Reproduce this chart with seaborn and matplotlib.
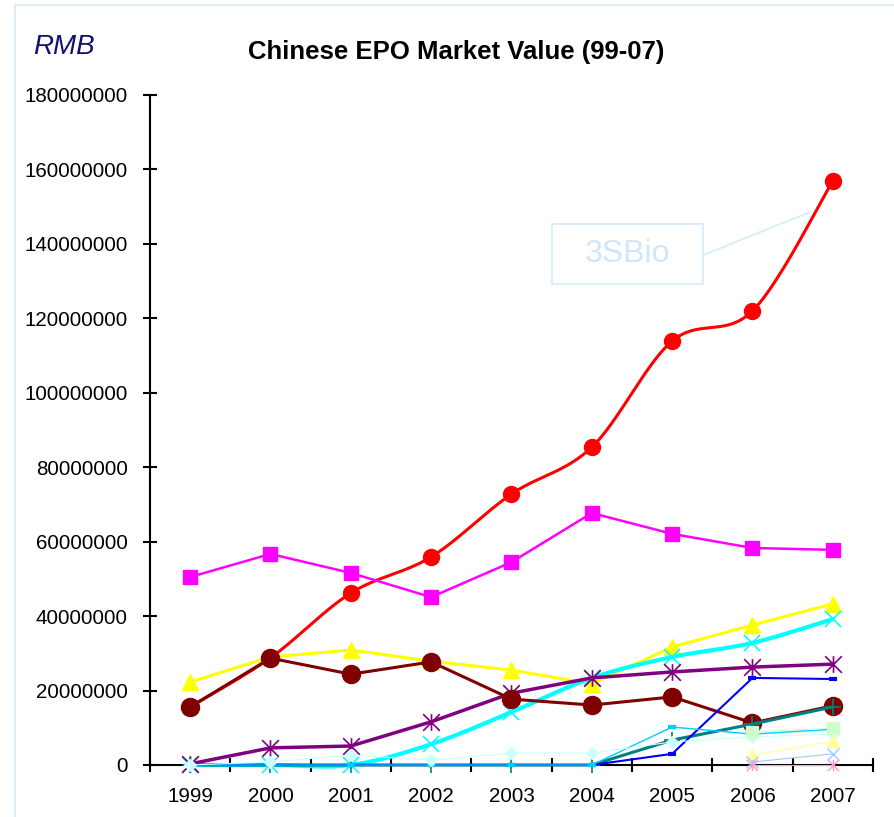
import numpy as np
import pandas as pd
import matplotlib
matplotlib.use("Agg")
import matplotlib.pyplot as plt
import matplotlib.patches as mpatches
from matplotlib.path import Path
from matplotlib.ticker import FixedLocator, StrMethodFormatter
import seaborn as sns

sns.set_theme(style="white")
plt.rcParams["font.family"] = ["Liberation Sans", "DejaVu Sans"]
plt.rcParams["text.color"] = "black"

## DATA (RMB)
years = ["1999", "2000", "2001", "2002", "2003", "2004", "2005", "2006", "2007"]

sbio_3 = [15.6e6, 28.8e6, 46.2e6, 55.9e6, 72.8e6, 85.4e6, 113.9e6, 122.0e6, 156.9e6]
magenta_s = [50.5e6, 56.7e6, 51.6e6, 45.1e6, 54.5e6, 67.7e6, 62.1e6, 58.3e6, 57.8e6]
yellow_s = [22.3e6, 29.0e6, 30.9e6, 27.9e6, 25.5e6, 21.8e6, 31.7e6, 37.6e6, 43.3e6]
cyan_s = [0, 0, 0, 5.6e6, 14.2e6, 23.4e6, 29.0e6, 32.8e6, 39.2e6]
purple_s = [0.3e6, 4.6e6, 5.1e6, 11.6e6, 19.3e6, 23.4e6, 25.0e6, 26.3e6, 27.1e6]
maroon_s = [15.6e6, 28.7e6, 24.4e6, 27.7e6, 17.7e6, 16.1e6, 18.3e6, 11.3e6, 15.9e6]
teal_s = [0, 0, 0, 0, 0, 0, 6.7e6, 11.0e6, 15.6e6]
blue_s = [0, 0, 0, 0, 0, 0, 3.0e6, 23.4e6, 23.1e6]
skyblue_s = [0, 0, 0, 0, 0, 0, 10.2e6, 8.3e6, 9.6e6]
lightcyan_s = [0, 0.8e6, 2.7e6, 1.3e6, 3.2e6, 3.2e6, 6.2e6, 7.5e6, 8.3e6]
palegreen_s = [None, None, None, None, None, None, None, 8.9e6, 9.9e6]
paleyellow_s = [None, None, None, None, None, None, None, 2.6e6, 6.4e6]
lightblue_s = [None, None, None, None, None, None, None, 0.8e6, 3.0e6]
pink_s = [None, None, None, None, None, None, None, 0.1e6, 0.1e6]

y_ticks = [0, 20000000, 40000000, 60000000, 80000000, 100000000,
           120000000, 140000000, 160000000, 180000000]

# Excel style asterisk: X plus a vertical bar
star = Path([(0, -1), (0, 1), (-1, -1), (1, 1), (-1, 1), (1, -1)],
            [Path.MOVETO, Path.LINETO] * 3)

# name, values, color, line width, marker, marker size, edge width, smooth
series = [
    ("3SBio", sbio_3, "#ff0000", 2.2, "o", 11.5, 1, True),
    ("s2", magenta_s, "#ff00ff", 1.8, "s", 10, 1, False),
    ("s3", yellow_s, "#ffff00", 2.2, "^", 11.5, 1, False),
    ("s4", cyan_s, "#00ffff", 3.0, "x", 11, 1.2, True),
    ("s5", purple_s, "#800080", 2.5, star, 12, 1.2, False),
    ("s6", maroon_s, "#800000", 2.2, "o", 13, 1, False),
    ("s7", teal_s, "#008080", 2.2, "+", 11, 1.2, False),
    ("s8", blue_s, "#0000ff", 1.5, "_", 6, 3, False),
    ("s9", skyblue_s, "#00ccff", 1.0, "_", 6, 3, False),
    ("s10", lightcyan_s, "#ccffff", 0.8, "D", 6, 1, False),
    ("s11", palegreen_s, "#ccffcc", 0.8, "s", 8, 1, False),
    ("s12", paleyellow_s, "#ffff99", 0.8, "^", 8, 1, False),
    ("s13", lightblue_s, "#99ccff", 0.8, "x", 8, 1, False),
    ("s14", pink_s, "#ff99cc", 0.8, star, 8, 1, False),
]


def smooth(x, y, n=24):
    # Bezier smoothing through the points, like Excel's smoothed line
    p = np.column_stack([x, y]).astype(float)
    out = [p[0]]
    for i in range(len(p) - 1):
        p0 = p[i - 1] if i > 0 else p[i]
        p3 = p[i + 2] if i + 2 < len(p) else p[i + 1]
        c1 = p[i] + (p[i + 1] - p0) / 6
        c2 = p[i + 1] - (p3 - p[i]) / 6
        t = np.linspace(0, 1, n)[1:, None]
        seg = ((1 - t) ** 3 * p[i] + 3 * (1 - t) ** 2 * t * c1
               + 3 * (1 - t) * t ** 2 * c2 + t ** 3 * p[i + 1])
        out.extend(seg)
    out = np.array(out)
    return out[:, 0], out[:, 1]


fig = plt.figure(figsize=(8.95, 8.17), dpi=100)
ax = fig.add_axes([150 / 895, 1 - 765 / 817, 723 / 895, 670 / 817])

for name, vals, color, lw, mk, ms, mew, smoothed in series:
    df = pd.DataFrame({"x": np.arange(len(years)), "value": vals}).dropna()
    if smoothed:
        sx, sy = smooth(df["x"].values, df["value"].values)
        sns.lineplot(x=sx, y=sy, color=color, linewidth=lw, sort=False,
                     estimator=None, ax=ax, zorder=3, clip_on=False)
        sns.lineplot(data=df, x="x", y="value", color=color, linewidth=0,
                     marker=mk, markersize=ms, markeredgecolor=color,
                     markeredgewidth=mew, ax=ax, zorder=3, clip_on=False)
    else:
        sns.lineplot(data=df, x="x", y="value", color=color, linewidth=lw,
                     marker=mk, markersize=ms, markeredgecolor=color,
                     markeredgewidth=mew, ax=ax, zorder=3, clip_on=False)

ax.set_xlim(-0.5, len(years) - 0.5)
ax.set_ylim(0, 180000000)

# x: tick marks between categories, labels at category centres
ax.xaxis.set_major_locator(FixedLocator(np.arange(len(years) + 1) - 0.5))
ax.xaxis.set_minor_locator(FixedLocator(np.arange(len(years))))
ax.set_xticklabels([], minor=False)
ax.set_xticklabels(years, minor=True)
ax.tick_params(axis="x", which="major", direction="inout", length=10,
               width=1.5, color="black", bottom=True)
ax.tick_params(axis="x", which="minor", length=0, pad=16, labelsize=14.8,
               labelcolor="black", bottom=True)

ax.set_yticks(y_ticks)
ax.yaxis.set_major_formatter(StrMethodFormatter("{x:.0f}"))
ax.tick_params(axis="y", direction="inout", length=10, width=1.5,
               color="black", pad=11, labelsize=14.8, labelcolor="black",
               left=True)

for side in ["top", "right"]:
    ax.spines[side].set_visible(False)
for side in ["left", "bottom"]:
    ax.spines[side].set_color("black")
    ax.spines[side].set_linewidth(1.5)
ax.set_xlabel("")
ax.set_ylabel("")
ax.grid(False)

# 3SBio callout
ax.add_patch(mpatches.Rectangle((0.556, 0.718), 0.209, 0.089,
                                transform=ax.transAxes, fill=False,
                                edgecolor="#d4ebfb", linewidth=1.2))
ax.text(0.660, 0.762, "3SBio", transform=ax.transAxes, ha="center",
        va="center", fontsize=23, color="#cfe7fa")
ax.annotate("", xy=(0.912, 0.825), xytext=(0.765, 0.761),
            xycoords="axes fraction", textcoords="axes fraction",
            arrowprops=dict(arrowstyle="-", color="#d4ebfb", lw=1.2,
                            shrinkA=0, shrinkB=0))

fig.text(456 / 895, 1 - 52 / 817, "Chinese EPO Market Value (99-07)",
         ha="center", va="center", fontsize=18.5, fontweight="bold",
         color="black")
fig.text(33 / 895, 1 - 47 / 817, "RMB", ha="left", va="center",
         fontsize=20, fontstyle="italic", color="#10106e")

# light frame around the chart area
fig.add_artist(mpatches.Rectangle((15 / 895, -0.1), 1.2, 1.1 - 5 / 817,
                                  transform=fig.transFigure, fill=False,
                                  edgecolor="#dcecfa", linewidth=1.5))

fig.savefig("out.png", dpi=100)
